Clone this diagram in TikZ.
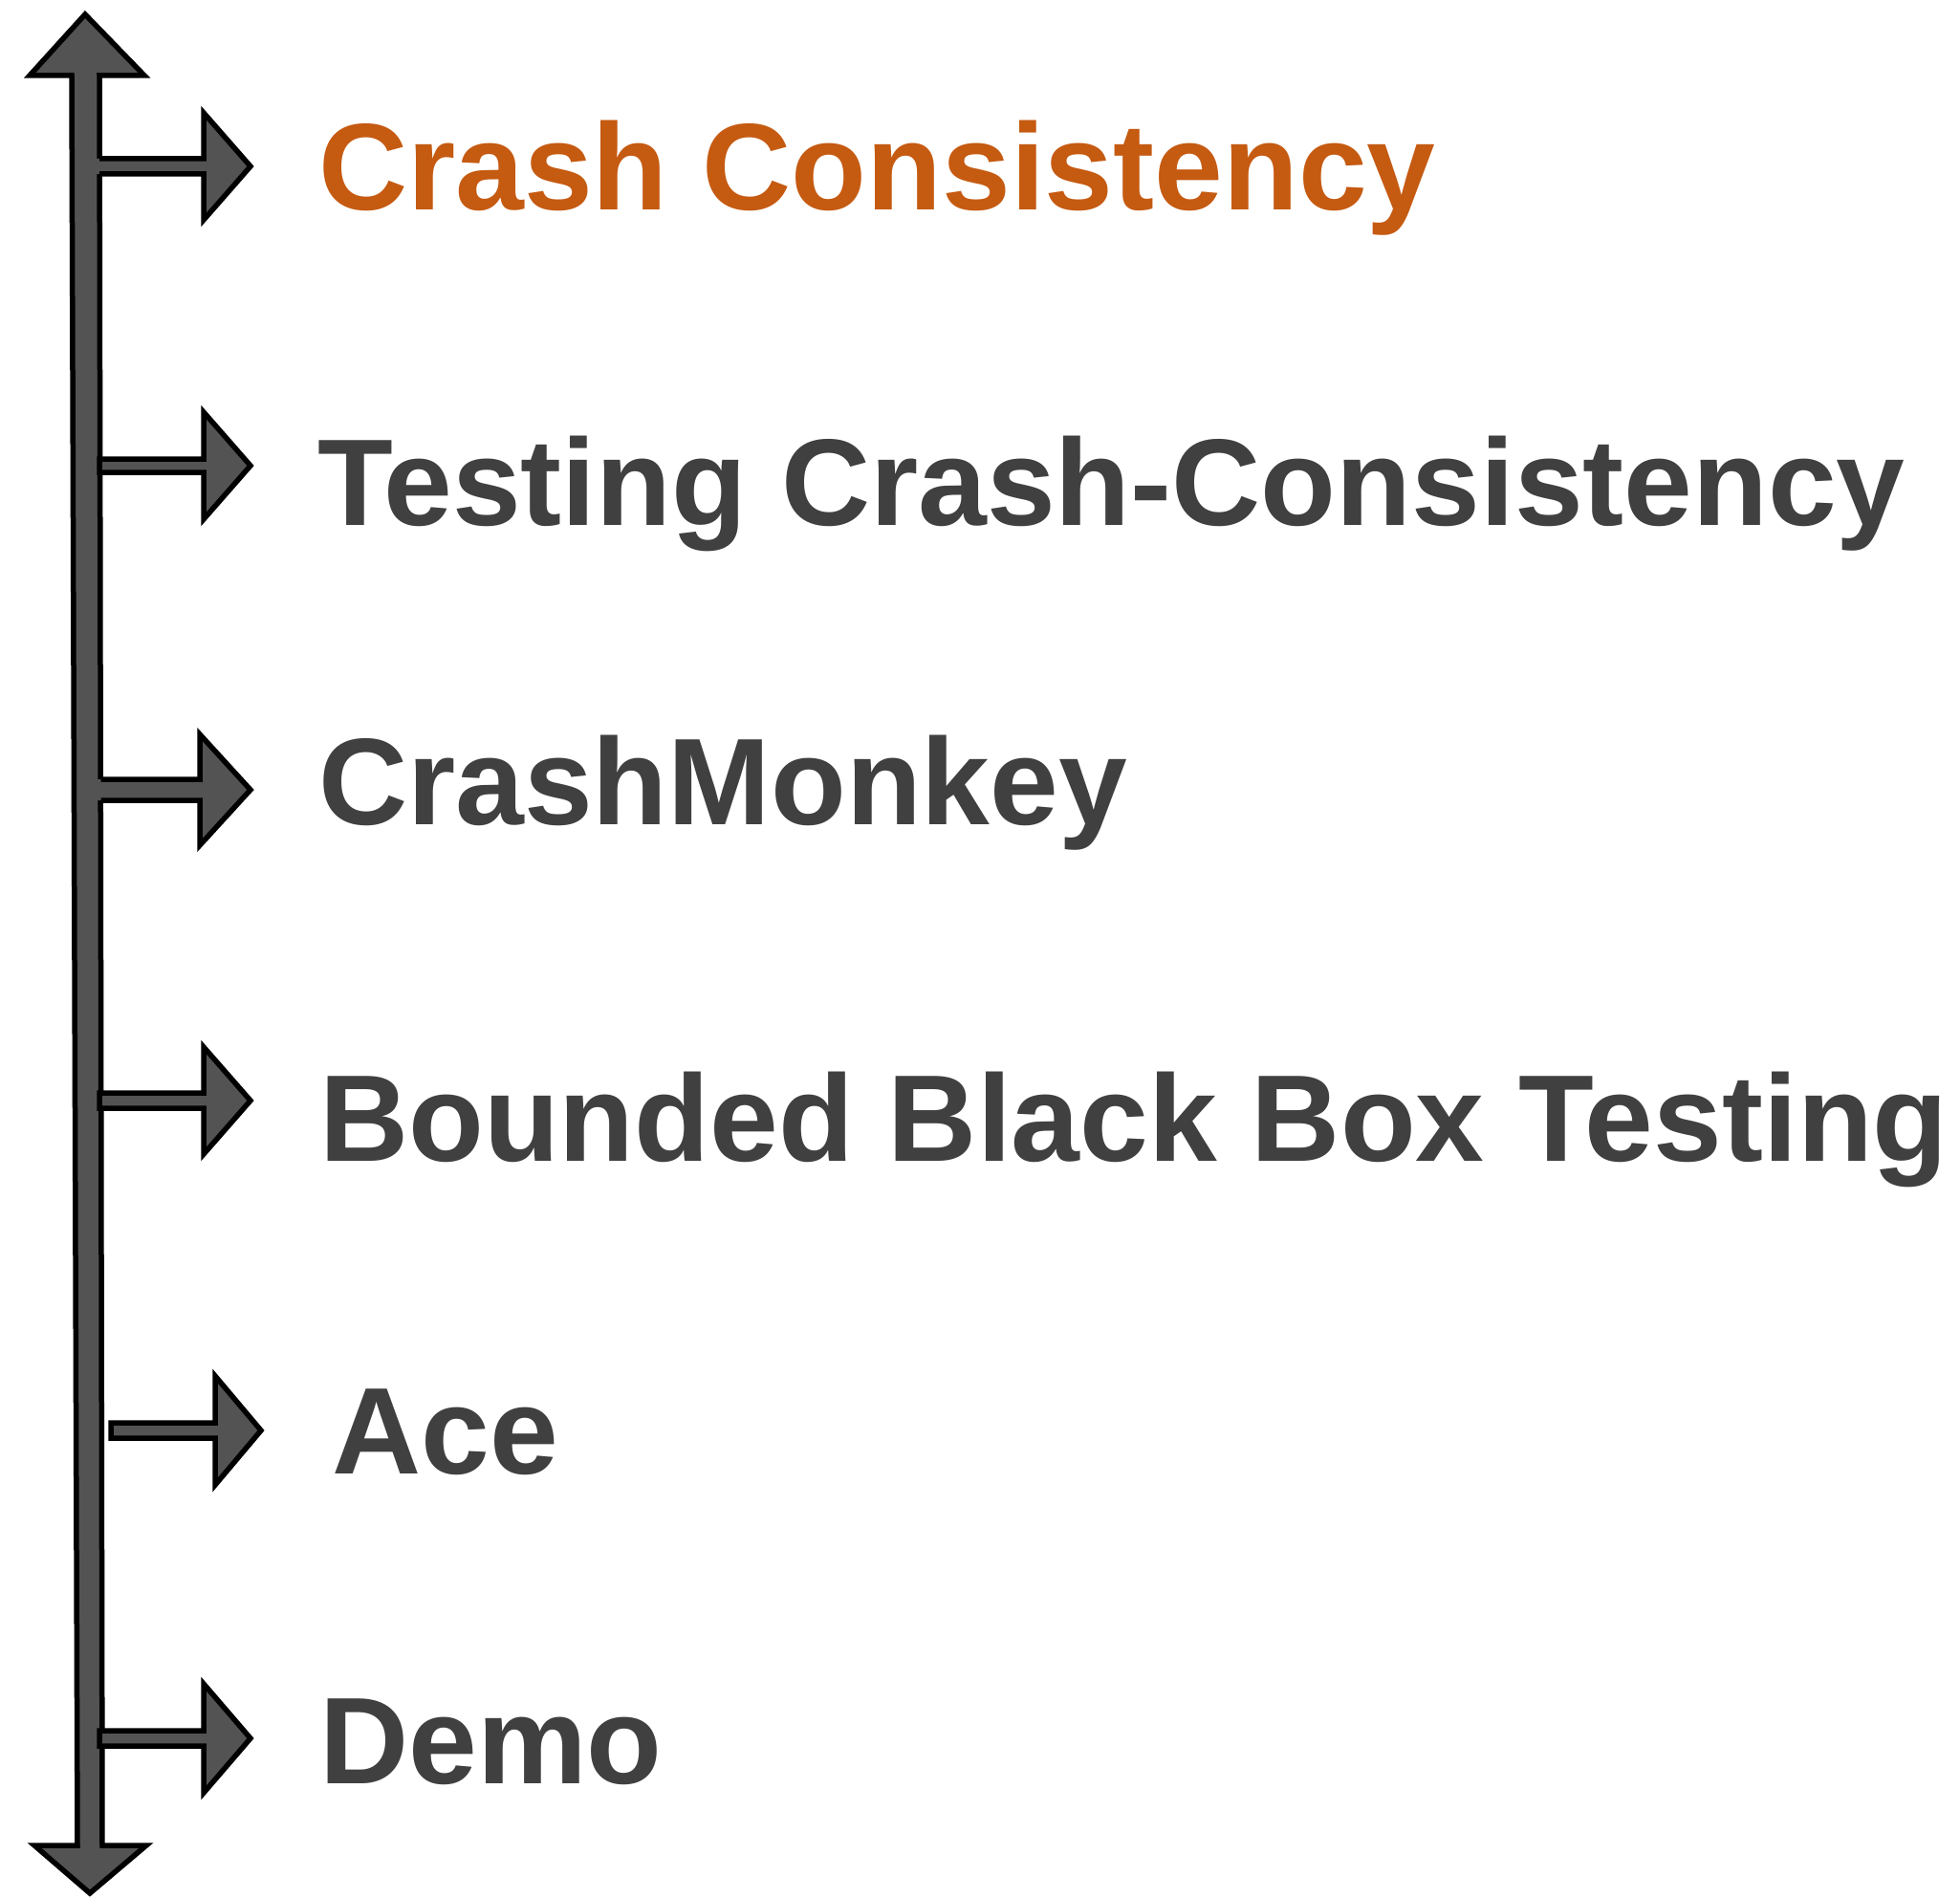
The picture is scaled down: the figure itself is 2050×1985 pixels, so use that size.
\documentclass[tikz,border=0pt]{standalone}
\usepackage{fontspec}
\setmainfont{Liberation Sans}
\definecolor{shaftgray}{HTML}{535353}
\definecolor{labelgray}{HTML}{404040}
\definecolor{accent}{HTML}{C55A11}
\tikzset{
  arrowbody/.style={fill=shaftgray, draw=black, line width=5.5pt, line join=miter, miter limit=20},
  arrowfill/.style={fill=shaftgray, draw=none},
  arrowedge/.style={draw=black, line width=5.5pt, line join=miter, miter limit=20},
  topic/.style={anchor=base west, inner sep=0pt, text=labelgray,
    font=\fontsize{129}{150}\selectfont\bfseries},
}
% branch arrow with a closed outline: start x, centre y, half shaft, head base x, half head, tip x
\newcommand\closedbranch[6]{%
  \draw[arrowbody] (#1,{#2-#3}) -- (#4,{#2-#3}) -- (#4,{#2-#5}) -- (#6,#2)
    -- (#4,{#2+#5}) -- (#4,{#2+#3}) -- (#1,{#2+#3}) -- cycle;}
% branch arrow fused with the main shaft (no outline on its root)
\newcommand\fusedbranch[6]{%
  \fill[arrowfill] (92,{#2-#3}) -- (#4,{#2-#3}) -- (#4,{#2-#5}) -- (#6,#2)
    -- (#4,{#2+#5}) -- (#4,{#2+#3}) -- (92,{#2+#3}) -- cycle;
  \draw[arrowedge] (#1,{#2-#3}) -- (#4,{#2-#3}) -- (#4,{#2-#5}) -- (#6,#2)
    -- (#4,{#2+#5}) -- (#4,{#2+#3}) -- (#1,{#2+#3});}
\begin{document}
\begin{tikzpicture}[x=1pt,y=-1pt]
\useasboundingbox (0,0) rectangle (2050,1985);
\fill[white] (0,0) rectangle (2050,1985);

% main double-headed timeline
\draw[arrowbody] (89,15) -- (151,79) -- (104,79) -- (107,1930) -- (153,1930) -- (94,1980)
  -- (36,1930) -- (81,1930) -- (75,79) -- (31,79) -- cycle;

% branches
\fusedbranch{104.2}{174}{8}{213}{56}{262}
\closedbranch{104}{487}{7}{213}{56}{262}
\fusedbranch{105.5}{826}{11}{209}{58}{262}
\closedbranch{104}{1151}{8}{213}{56}{262}
\closedbranch{116}{1496}{8}{225}{57}{273}
\closedbranch{104}{1818}{8}{213}{57}{262}

% labels
\node[topic, text=accent] (t1) at (333,219.5) {Crash Consistency};
\node[topic] (t2) at (332,549.5) {Testing Crash-Consistency};
\node[topic] (t3) at (333,862.5) {CrashMonkey};
\node[topic] (t4) at (334,1214) {Bounded Black Box Testing};
\node[topic] (t5) at (347,1541.5) {Ace};
\node[topic] (t6) at (334,1865) {Demo};
\end{tikzpicture}
\end{document}
